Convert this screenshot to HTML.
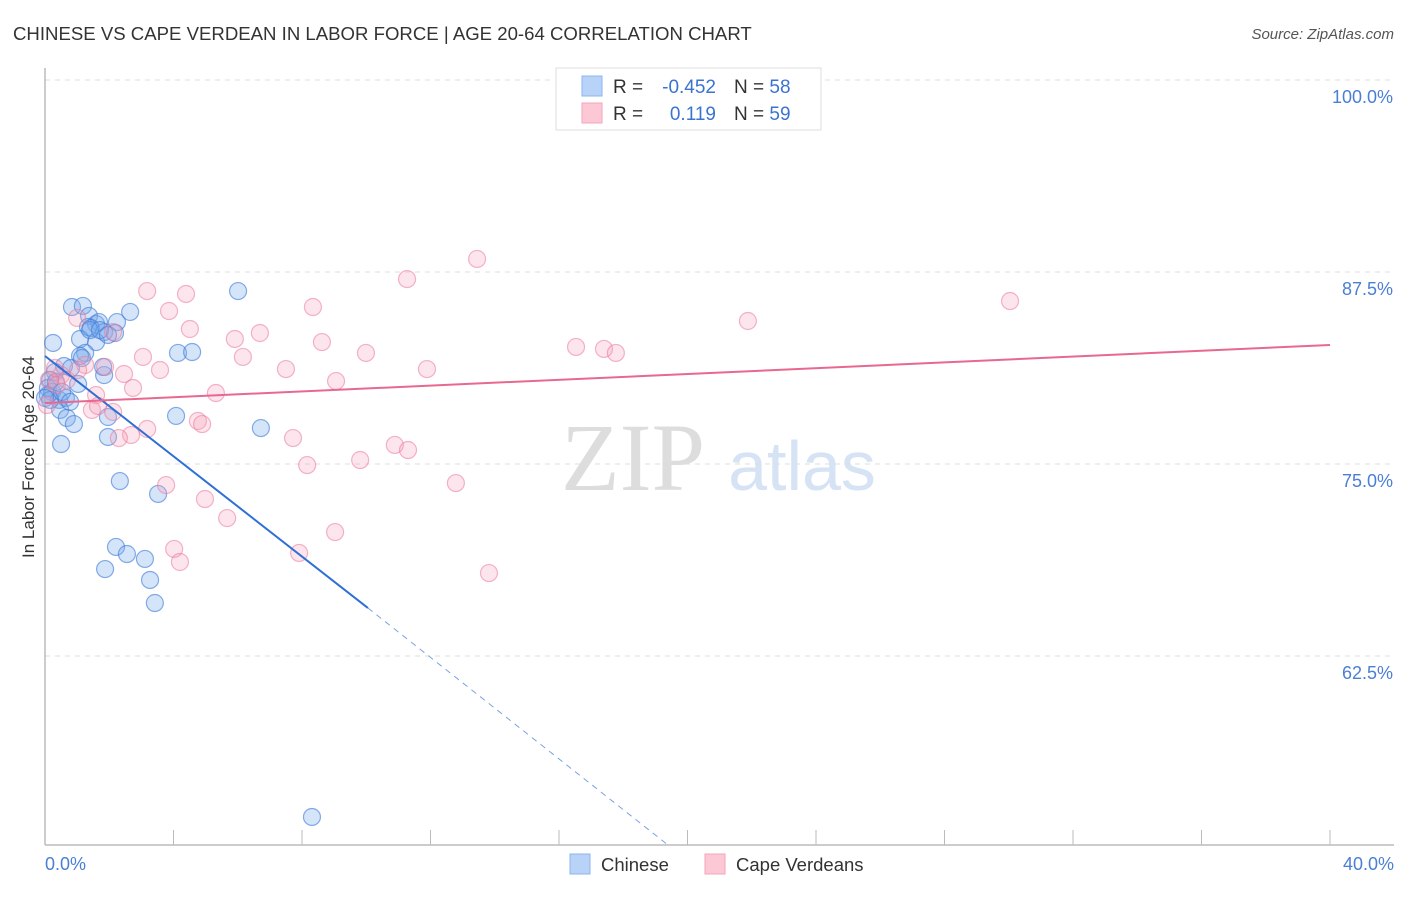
<!DOCTYPE html>
<html><head><meta charset="utf-8"><style>
body{margin:0;background:#fff;font-family:"Liberation Sans",sans-serif}
</style></head><body>
<svg id="chart" width="1406" height="892" xmlns="http://www.w3.org/2000/svg" font-family="Liberation Sans, sans-serif">
<text x="13" y="40" font-size="18.6" fill="#333">CHINESE VS CAPE VERDEAN IN LABOR FORCE | AGE 20-64 CORRELATION CHART</text>
<text x="1394" y="39" font-size="15" fill="#555" text-anchor="end" font-style="italic">Source: ZipAtlas.com</text>
<g>
<text x="633" y="490" font-size="96" fill="#ddd" text-anchor="middle" font-family="Liberation Serif, serif">ZIP</text>
<text x="802" y="490" font-size="70" fill="#d6e3f5" text-anchor="middle">atlas</text>
</g>
<g id="grid"></g><g id="axes"></g><g id="pts"></g><g id="lines"></g>
<text transform="translate(34,457) rotate(-90)" font-size="17" fill="#333" text-anchor="middle">In Labor Force | Age 20-64</text>
<text x="45" y="870" font-size="18" fill="#4a7fd4">0.0%</text>
<text x="1394" y="870" font-size="18" fill="#4a7fd4" text-anchor="end">40.0%</text>
<g>
<rect x="556" y="68" width="265" height="62" fill="#fff" stroke="#ddd"/>
<rect x="582" y="76" width="20" height="20" fill="#b8d3f7" stroke="#8ab4ee"/>
<rect x="582" y="103" width="20" height="20" fill="#fcc8d6" stroke="#f3a4bb"/>
<text x="613" y="93" font-size="19" fill="#333">R =</text>
<text x="716" y="93" font-size="19" fill="#3a74d0" text-anchor="end">-0.452</text>
<text x="734" y="93" font-size="19" fill="#333">N = <tspan fill="#3a74d0">58</tspan></text>
<text x="613" y="120" font-size="19" fill="#333">R =</text>
<text x="716" y="120" font-size="19" fill="#3a74d0" text-anchor="end">0.119</text>
<text x="734" y="120" font-size="19" fill="#333">N = <tspan fill="#3a74d0">59</tspan></text>
</g>
<g>
<rect x="570" y="854" width="20" height="20" fill="#b8d3f7" stroke="#8ab4ee"/>
<text x="601" y="871" font-size="18.5" fill="#333">Chinese</text>
<rect x="705" y="854" width="20" height="20" fill="#fcc8d6" stroke="#f3a4bb"/>
<text x="736" y="871" font-size="18.5" fill="#333">Cape Verdeans</text>
</g>
</svg>
<script>
const yTicks=[100,87.5,75,62.5];
const yTickLabels=["100.0%","87.5%","75.0%","62.5%"];
const xTicks=[0,4,8,12,16,20,24,28,32,36,40];
const chineseX=[0.25,0.84,1.18,1.37,1.59,1.68,1.34,1.43,1.84,2.24,2.65,2.18,1.59,1.09,1.25,1.09,0.59,0.81,0.31,0.16,0.09,0.22,1.03,1.84,1.81,0.44,0.65,0.47,0.68,0.90,0.50,1.96,1.96,4.08,6.72,4.14,4.58,6.01,2.33,3.52,2.21,2.55,1.87,3.11,3.27,3.42,8.31,0.09,0.16,0.34,0.53,0.78,1.40,1.71,1.96,1.15,0.0];
const chineseY=[82.88,85.22,85.29,84.64,84.11,84.24,83.92,83.85,83.59,84.24,84.90,83.53,82.94,83.14,82.23,82.03,81.38,81.25,80.99,80.47,79.95,79.69,80.21,80.79,81.32,79.17,79.30,78.52,78.0,77.60,76.30,78.06,76.76,78.13,77.34,82.23,82.29,86.26,73.89,73.05,69.60,69.14,68.16,68.82,67.45,65.95,52.02,79.49,79.17,80.34,79.69,79.04,83.72,83.72,83.40,81.90,79.30];
const capeX=[3.18,4.39,3.86,4.51,5.91,6.69,6.16,8.62,8.34,11.27,13.45,9.99,7.50,9.06,11.89,16.53,17.40,17.77,21.88,30.04,1.0,2.12,1.87,3.05,3.58,2.46,2.74,5.32,0.50,0.12,0.37,1.59,1.46,1.65,3.18,2.68,2.30,4.76,4.89,7.72,10.89,11.30,9.81,8.16,3.77,4.98,5.67,12.79,9.03,4.02,4.20,7.91,13.82,0.68,1.25,0.31,2.12,0.06,1.03];
const capeY=[86.26,86.07,84.96,83.79,83.14,83.53,81.97,82.94,85.22,87.04,88.35,82.23,81.18,80.40,81.18,82.62,82.49,82.23,84.31,85.61,84.51,83.59,81.32,81.97,81.12,80.86,79.95,79.62,80.79,80.47,80.14,79.49,78.52,78.78,77.28,76.89,76.69,77.80,77.60,76.69,76.24,75.91,75.26,74.93,73.63,72.72,71.48,73.76,70.57,69.47,68.62,69.21,67.90,80.47,81.45,81.25,78.39,78.84,81.12];
const chineseTrend=[[0,82.03],[10.05,65.63],[19.39,50.2]];
const capeTrend=[[0,78.97],[40,82.75]];
const NS="http://www.w3.org/2000/svg";
const sx=v=>45+v/40*1285, sy=v=>80+(100-v)*15.36;
function mk(tag,attrs,parent){const e=document.createElementNS(NS,tag);for(const k in attrs)e.setAttribute(k,attrs[k]);document.getElementById(parent).appendChild(e);return e;}
yTicks.forEach((t,i)=>{
 const g=mk('line',{x1:45,x2:1394,y1:sy(t),y2:sy(t),stroke:'#ddd','stroke-dasharray':'5,5'},'grid');
 
 
 const l=mk('text',{x:1393,y:sy(t)+23,'font-size':18,fill:'#4a7fd4','text-anchor':'end'},'grid');l.textContent=yTickLabels[i];
 
 
});
const ax=mk('line',{x1:45,x2:45,y1:68,y2:845,stroke:'#bbb','stroke-width':1.5},'axes');


const bx=mk('line',{x1:45,x2:1394,y1:845,y2:845,stroke:'#bbb','stroke-width':1.5},'axes');


xTicks.forEach(t=>{const k=mk('line',{x1:sx(t),x2:sx(t),y1:830,y2:845,stroke:'#bbb'},'axes');
 
 });
chineseX.forEach((x,i)=>{const c=mk('circle',{cx:sx(x),cy:sy(chineseY[i]),r:8.5,fill:'rgba(120,170,235,0.32)',stroke:'rgba(60,120,215,0.6)','stroke-width':1.2},'pts');
 
 });
capeX.forEach((x,i)=>{const c=mk('circle',{cx:sx(x),cy:sy(capeY[i]),r:8.5,fill:'rgba(245,160,185,0.28)',stroke:'rgba(235,120,155,0.55)','stroke-width':1.2},'pts');
 
 });
const b1=mk('line',{x1:sx(chineseTrend[0][0]),y1:sy(chineseTrend[0][1]),x2:sx(chineseTrend[1][0]),y2:sy(chineseTrend[1][1]),stroke:'#2f6fd6','stroke-width':2},'lines');


const b2=mk('line',{x1:sx(chineseTrend[1][0]),y1:sy(chineseTrend[1][1]),x2:sx(chineseTrend[2][0]),y2:sy(chineseTrend[2][1]),stroke:'#7aa2e0','stroke-width':1,'stroke-dasharray':'6,5'},'lines');


const p1=mk('line',{x1:sx(capeTrend[0][0]),y1:sy(capeTrend[0][1]),x2:sx(capeTrend[1][0]),y2:sy(capeTrend[1][1]),stroke:'#e8688f','stroke-width':2},'lines');


</script>
</body></html>
